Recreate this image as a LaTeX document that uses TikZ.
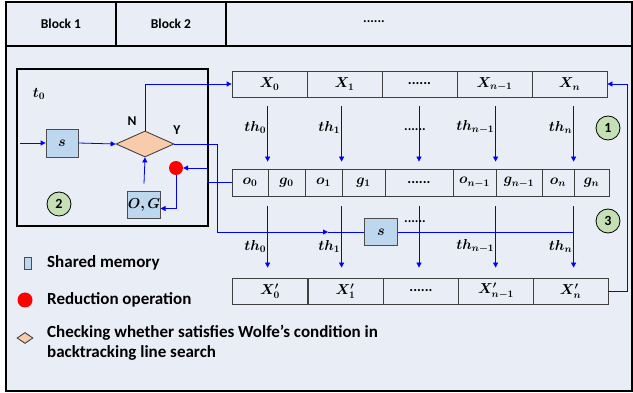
\documentclass[tikz,border=0pt]{standalone}
\usepackage{bm}
\usepackage{fontspec}
\newfontfamily\cali{Carlito}
\usetikzlibrary{arrows.meta,shapes.geometric}

\definecolor{bgblue}{HTML}{E9EDF5}
\definecolor{memblue}{HTML}{BDD7EE}
\definecolor{checkpeach}{HTML}{F8CBAD}
\definecolor{taggreen}{HTML}{C5E0B4}

\begin{document}
\begin{tikzpicture}[x=1pt,y=-1pt]
\tikzstyle{every node}=[inner sep=0pt, text=black, font=\fontsize{14.4}{17}\selectfont]
\tikzstyle{cell}=[draw=black!75, line width=.8pt, minimum height=26pt]
\tikzstyle{mem}=[draw=black!70, fill=memblue, line width=.8pt]
\tikzstyle{tag}=[draw, circle, fill=taggreen, line width=.8pt, minimum size=24pt, font=\cali\bfseries\fontsize{14}{16}\selectfont]
\tikzstyle{txt}=[font=\cali\bfseries\fontsize{13.5}{16}\selectfont]
\tikzstyle{legend}=[font=\cali\bfseries\fontsize{17}{19.5}\selectfont]
\tikzstyle{flow}=[blue, line width=.8pt]
\tikzstyle{arr}=[flow, -{Triangle[length=5pt,width=5pt]}]

\useasboundingbox (0,0) rectangle (633,393);
\draw[fill=bgblue, line width=1.2pt] (6,2) rectangle (632,391);

% header
\node (b1) [draw, line width=1.2pt, minimum width=110pt, minimum height=44pt, txt] at (61,24) {Block 1};
\node (b2) [draw, line width=1.2pt, minimum width=110pt, minimum height=44pt, txt] at (171,24) {Block 2};
\node (b3) [draw, line width=1.2pt, minimum width=406pt, minimum height=44pt] at (429,24) {};
\node (bd) [txt] at (374,22) {......};

% block of thread t0
\draw[line width=1.2pt] (17,69) rectangle (208,226);
\node (t0) at (39,94) {$\bm{t_0}$};
\coordinate (in) at (20,143);
\node (s1) [mem, minimum width=32pt, minimum height=28pt] at (62,143) {$\bm{s}$};
\node (dia) [diamond, draw=black!80, fill=checkpeach, line width=.8pt, minimum width=58pt, minimum height=26pt] at (145,144) {};
\node (lN) [txt] at (132,121) {N};
\node (lY) [txt] at (177,130) {Y};
\node (red) [circle, fill=red, minimum size=14pt] at (176,168) {};
\node (og) [mem, minimum width=32pt, minimum height=27pt] at (144,204.5) {$\bm{O,G}$};
\node (tag2) [tag] at (59,204) {2};

\draw[arr] (in) -- (s1.west);
\draw[arr] (s1.east) -- (dia.west);
\draw[arr] ([yshift=7pt]og.north) -- (dia.south);
\draw[arr] (red.south) |- ([yshift=-4pt]og.east);

% rows of the arrays
\foreach \n/\x/\t in {x0/269.5/{$\bm{X_0}$}, x1/344.5/{$\bm{X_1}$}, xd/419.5/{\cali\bfseries ......},
    xm/494.5/{$\bm{X_{n-1}}$}, xn/569.5/{$\bm{X_n}$}}
  \node (\n) [cell, minimum width=75pt] at (\x,84) {\t};
\foreach \n/\x/\w/\t in {o0/250/36/{$\bm{o_0}$}, g0/286.5/37/{$\bm{g_0}$}, o1/323.5/37/{$\bm{o_1}$},
    g1/363.5/43/{$\bm{g_1}$}, od/419/68/{\cali\bfseries ......}, om/474.5/43/{$\bm{o_{n-1}}$},
    gm/519/46/{$\bm{g_{n-1}}$}, on/558/32/{$\bm{o_n}$}, gn/591.5/35/{$\bm{g_n}$}}
  \node (\n) [cell, minimum width=\w pt, minimum height=27pt] at (\x,182.5) {\t};
\foreach \n/\x/\t in {xp0/270/{$\bm{X'_0}$}, xp1/345.5/{$\bm{X'_1}$}, xpd/421/{\cali\bfseries ......},
    xpm/496/{$\bm{X'_{n-1}}$}, xpn/570.5/{$\bm{X'_n}$}}
  \node (\n) [cell, minimum width=75pt] at (\x,291) {\t};

% threads
\foreach \c/\t in {g0/th_0, g1/th_1, gm/th_{n-1}, gn/th_n} {
  \draw[arr] (\c.north west |- x0.south) ++(0,9) -- node[anchor=east, pos=.38, xshift=-1pt] {$\bm{\t}$} ([yshift=7pt]\c.north west);
  \draw[arr] (\c.south west) ++(0,10) -- node[anchor=east, pos=.65, xshift=-1pt] {$\bm{\t}$} ([yshift=10pt]\c.south west |- xp0.north);
}
\draw[arr] (od.north |- x0.south) ++(0,9) -- ([yshift=7pt]od.north);
\draw[arr] (od.south) ++(0,10) -- ([yshift=10pt]od.south |- xp0.north);
\node (thd) [txt] at (415,130) {......};

% line search step
\coordinate (ybend) at (217,232);
\coordinate (ymid) at (328,232);
\node (s2) [mem, minimum width=33pt, minimum height=27pt] at (381,232) {$\bm{s}$};
\node (sd) [txt] at (415,222) {......};
\draw[arr] (dia.east) -| (ybend) -- (ymid);
\draw[flow] (ymid) -- (s2.west);
\draw[flow] (s2.east) -- (gn.west |- s2.east);

\draw[arr] (dia.north) |- (x0.west);
\draw[arr] (o0.west) -- ++(-24,0) |- (red.east);
\draw[arr] (xpn.east) -- ++(19,0) |- (xn.east);

\node (tag1) [tag] at (608,128) {1};
\node (tag3) [tag] at (608,221) {3};

% legend
\node (lm) [mem, minimum width=7pt, minimum height=12pt] at (28,263) {};
\node (lmt) [legend, anchor=west] at (47,263) {Shared memory};
\node (lr) [circle, fill=red, minimum size=15pt] at (25,300) {};
\node (lrt) [legend, anchor=west] at (47,300) {Reduction operation};
\node (ld) [diamond, draw=black!80, fill=checkpeach, line width=.8pt, minimum width=16pt, minimum height=11pt] at (25,338) {};
\node (ldt) [legend, anchor=north west, align=left] at (47,325) {Checking whether satisfies Wolfe’s condition in\\backtracking line search};
\end{tikzpicture}
\end{document}
